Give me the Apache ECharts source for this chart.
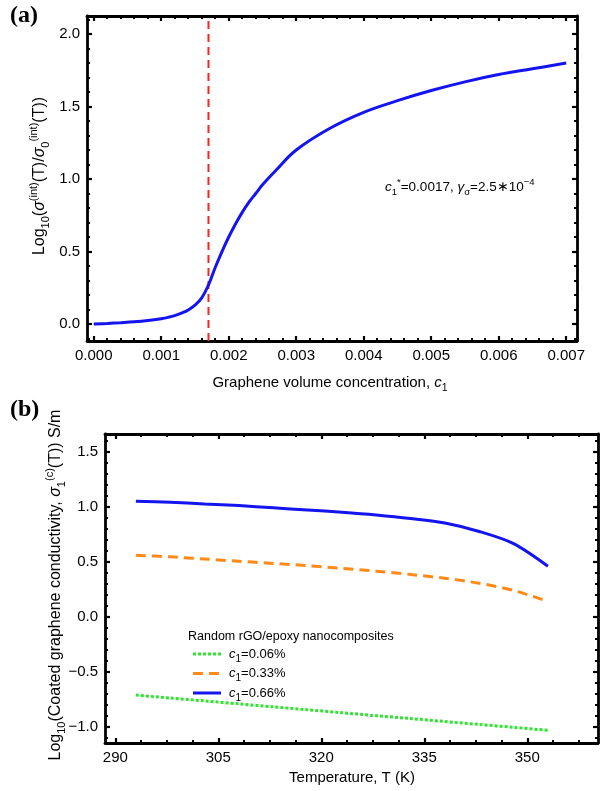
<!DOCTYPE html>
<html>
<head>
<meta charset="utf-8">
<script src="https://cdn.jsdelivr.net/npm/echarts@6/dist/echarts.min.js"></script>
<style>
html,body{margin:0;padding:0;background:#fff}
#chart{width:616px;height:791px}
</style>
</head>
<body>
<div id="chart"></div>
<script>
// ---- Panel (a): percolation curve ----
const concentration = [0, 0.0002, 0.0004, 0.0006, 0.0008, 0.001, 0.0011, 0.0012, 0.0013, 0.0014,
  0.0015, 0.0016, 0.0017, 0.0018, 0.0019, 0.002, 0.0021, 0.0022, 0.0023, 0.0024, 0.0025,
  0.0027, 0.003, 0.0035, 0.004, 0.0045, 0.005, 0.0055, 0.006, 0.0065, 0.007];
const logRatio = [0, 0.004, 0.009, 0.015, 0.024, 0.037, 0.046, 0.058, 0.075, 0.097,
  0.13, 0.18, 0.27, 0.39, 0.50, 0.60, 0.69, 0.77, 0.84, 0.90, 0.96,
  1.06, 1.20, 1.35, 1.46, 1.54, 1.61, 1.67, 1.72, 1.76, 1.80];
const thresholdC1 = 0.0017;
const xTicksA = [0, 0.001, 0.002, 0.003, 0.004, 0.005, 0.006, 0.007];
const yTicksA = [0, 0.5, 1.0, 1.5, 2.0];

// ---- Panel (b): coated graphene conductivity vs temperature ----
const temperature = [293, 298, 303, 308, 313, 318, 323, 328, 333, 338, 343, 348, 353];
const logSigma006 = [-0.71, -0.737, -0.763, -0.79, -0.817, -0.843, -0.87, -0.897, -0.923, -0.95, -0.977, -1.003, -1.03];
const logSigma033 = [0.56, 0.545, 0.525, 0.505, 0.485, 0.465, 0.44, 0.415, 0.385, 0.35, 0.305, 0.24, 0.14];
const logSigma066 = [1.05, 1.04, 1.025, 1.01, 0.99, 0.97, 0.95, 0.925, 0.893, 0.852, 0.775, 0.665, 0.46];
const xTicksB = [290, 305, 320, 335, 350];
const yTicksB = [-1.0, -0.5, 0, 0.5, 1.0, 1.5];

const seriesNames = ['c1=0.06%', 'c1=0.33%', 'c1=0.66%'];
const seriesColors = ['#2ee62e', '#ff8a1a', '#1414f0'];
const seriesDash = [[3, 2], [10, 6], 'solid'];

const FONT = 'Liberation Sans, Arial, sans-serif';

function minorValues(majors, parts, lo, hi) {
  const step = (majors[1] - majors[0]) / parts;
  const out = [];
  const start = majors[0] - Math.ceil((majors[0] - lo) / step) * step;
  for (let v = start; v <= hi + 1e-12; v += step) {
    const onMajor = majors.some(m => Math.abs(m - v) < step * 1e-3);
    if (!onMajor && v >= lo) out.push(+v.toPrecision(10));
  }
  return out;
}

// four axes per direction: labelled main side, opposite frame side, minor ticks on both sides
function frameAxes(dim, gridIndex, lo, hi, majors, minors, fmt) {
  const sides = dim === 'x' ? ['bottom', 'top'] : ['left', 'right'];
  const base = { type: 'value', gridIndex, min: lo, max: hi, splitLine: { show: false } };
  const line = { show: true, onZero: false, lineStyle: { color: '#000', width: 2.8 } };
  const noLine = { show: false, onZero: false };
  const major = { show: true, inside: true, length: 5, customValues: majors, lineStyle: { color: '#000', width: 2.2 } };
  const minor = { show: true, inside: true, length: 3, customValues: minors, lineStyle: { color: '#000', width: 2 } };
  return [
    Object.assign({}, base, {
      position: sides[0], axisLine: line, axisTick: major,
      axisLabel: { show: true, customValues: majors, formatter: fmt, color: '#000', fontSize: 15, fontFamily: FONT, margin: 7 }
    }),
    Object.assign({}, base, { position: sides[1], axisLine: line, axisTick: major, axisLabel: { show: false } }),
    Object.assign({}, base, { position: sides[0], axisLine: noLine, axisTick: minor, axisLabel: { show: false } }),
    Object.assign({}, base, { position: sides[1], axisLine: noLine, axisTick: minor, axisLabel: { show: false } })
  ];
}

const signed1 = v => (v < 0 ? '\u2212' : '') + Math.abs(v).toFixed(1);

const xRangeA = [-0.0001, 0.00716], yRangeA = [-0.117, 2.124];
const xRangeB = [288.5, 360.3], yRangeB = [-1.145, 1.66];

const xAxes = [].concat(
  frameAxes('x', 0, xRangeA[0], xRangeA[1], xTicksA, minorValues(xTicksA, 5, xRangeA[0], xRangeA[1]), v => v.toFixed(3)),
  frameAxes('x', 1, xRangeB[0], xRangeB[1], xTicksB, minorValues(xTicksB, 4, xRangeB[0], xRangeB[1]), v => String(Math.round(v)))
);
const yAxes = [].concat(
  frameAxes('y', 0, yRangeA[0], yRangeA[1], yTicksA, minorValues(yTicksA, 5, yRangeA[0], yRangeA[1]), v => v.toFixed(1)),
  frameAxes('y', 1, yRangeB[0], yRangeB[1], yTicksB, minorValues(yTicksB, 5, yRangeB[0], yRangeB[1]), signed1)
);

const zip = (xs, ys) => xs.map((x, i) => [x, ys[i]]);

function richSet(size, subSize) {
  return {
    n: { fontFamily: FONT, fontSize: size, color: '#000', lineHeight: size + 7 },
    i: { fontFamily: FONT, fontSize: size, color: '#000', fontStyle: 'italic', lineHeight: size + 7 },
    sub: { fontFamily: FONT, fontSize: subSize, color: '#000', verticalAlign: 'bottom', lineHeight: subSize + 2 },
    sup: { fontFamily: FONT, fontSize: subSize, color: '#000', verticalAlign: 'top', lineHeight: subSize + 2 }
  };
}
const richTitleA = richSet(15, 10.5);
const richYTitle = richSet(16, 11);
const richNote = richSet(13.5, 9.5);
const richLegend = richSet(13, 10);

// legend rows: sample line plus label, one per series
const legendTop = 654, legendStep = 19.5;
const legendGraphics = [];
seriesNames.forEach((name, k) => {
  const y = legendTop + k * legendStep;
  legendGraphics.push({
    type: 'line', shape: { x1: 193, y1: y, x2: 221, y2: y },
    style: { stroke: seriesColors[k], lineWidth: 3, lineDash: seriesDash[k] === 'solid' ? null : seriesDash[k] }
  });
  legendGraphics.push({
    type: 'text', x: 229, y: y,
    style: { text: '{i|c}{sub|1}{n|' + name.slice(2) + '}', rich: richLegend, verticalAlign: 'middle' }
  });
});

const lineB = (k, values) => ({
  name: seriesNames[k], type: 'line', xAxisIndex: 4, yAxisIndex: 4, data: zip(temperature, values),
  showSymbol: false, symbol: 'none', smooth: 0.3,
  lineStyle: { color: seriesColors[k], width: 3, type: seriesDash[k] }
});

const option = {
  animation: false,
  backgroundColor: '#fff',
  grid: [
    { left: 87, top: 16, width: 490, height: 325 },
    { left: 105, top: 434, width: 493, height: 309 }
  ],
  xAxis: xAxes,
  yAxis: yAxes,
  series: [
    {
      type: 'line', xAxisIndex: 0, yAxisIndex: 0, data: [[thresholdC1, yRangeA[0]], [thresholdC1, yRangeA[1]]],
      showSymbol: false, symbol: 'none', silent: true,
      lineStyle: { color: '#ff2020', width: 2, type: [8, 5] }
    },
    {
      type: 'line', xAxisIndex: 0, yAxisIndex: 0, data: zip(concentration, logRatio),
      showSymbol: false, symbol: 'none', smooth: 0.4,
      lineStyle: { color: '#1414f0', width: 3 }
    },
    lineB(0, logSigma006),
    lineB(1, logSigma033),
    lineB(2, logSigma066)
  ],
  graphic: [
    { type: 'text', left: 10, top: 4, style: { text: '(a)', font: 'bold 24px "Liberation Serif", serif', fill: '#000' } },
    { type: 'text', left: 10, top: 398, style: { text: '(b)', font: 'bold 24px "Liberation Serif", serif', fill: '#000' } },
    {
      type: 'text', x: 385, y: 177,
      style: {
        text: '{i|c}{sub|1}{sup|*}{n|=0.0017, }{i|\u03b3}{sub|\u03c3}{n|=2.5\u221710}{sup|\u22124}',
        rich: richNote
      }
    },
    {
      type: 'text', x: 330, y: 383,
      style: { text: '{n|Graphene volume concentration, }{i|c}{sub|1}', rich: richTitleA, align: 'center', verticalAlign: 'middle' }
    },
    {
      type: 'text', x: 40, y: 176, rotation: Math.PI / 2,
      style: {
        text: '{n|Log}{sub|10}{n|(}{i|\u03c3}{sup|(int)}{n|(T)/}{i|\u03c3}{sub|0}{sup|(int)}{n|(T))}',
        rich: richYTitle, align: 'center', verticalAlign: 'middle'
      }
    },
    {
      type: 'text', x: 352, y: 778,
      style: { text: 'Temperature, T (K)', font: '15px ' + FONT, fill: '#000', align: 'center', verticalAlign: 'middle' }
    },
    {
      type: 'text', x: 56, y: 585, rotation: Math.PI / 2,
      style: {
        text: '{n|Log}{sub|10}{n|(Coated graphene conductivity, }{i|\u03c3}{sub|1}{sup|(c)}{n|(T)) S/m}',
        rich: richYTitle, align: 'center', verticalAlign: 'middle'
      }
    },
    {
      type: 'text', x: 188, y: 637,
      style: { text: 'Random rGO/epoxy nanocomposites', font: '12.5px ' + FONT, fill: '#000', verticalAlign: 'middle' }
    }
  ].concat(legendGraphics)
};

const chart = echarts.init(document.getElementById('chart'), null, { renderer: 'canvas' });
chart.setOption(option);
</script>
</body>
</html>
